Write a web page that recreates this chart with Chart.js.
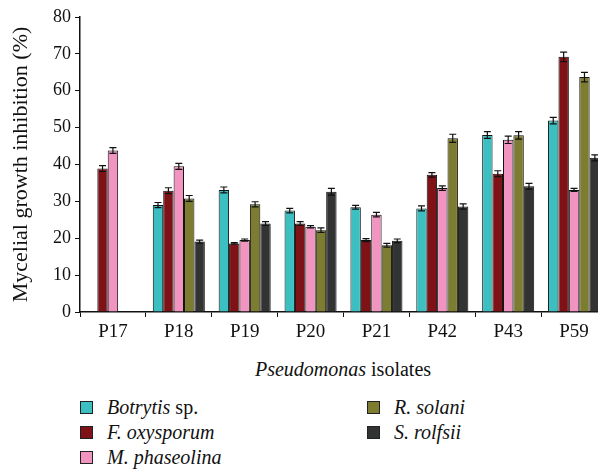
<!DOCTYPE html>
<html>
<head>
<meta charset="utf-8">
<script src="https://cdn.jsdelivr.net/npm/chart.js@4.4.1/dist/chart.umd.min.js"></script>
<style>
  body { margin: 0; width: 598px; height: 469px; overflow: hidden; background: #fff; position: relative; font-family: "Liberation Serif", "DejaVu Serif", serif; }
  #wrap { position: absolute; left: 0; top: 0; width: 610px; height: 345px; }
  #xtitle { position: absolute; left: 0; width: 598px; top: 358px; text-align: center; font-size: 20px; color: #111; padding-left: 88px; box-sizing: border-box; }
  .leg { position: absolute; font-size: 20px; color: #111; white-space: nowrap; }
  .leg span.sw { position: absolute; left: 0; top: 5px; width: 13px; height: 13px; border: 1px solid #222; box-sizing: border-box; }
  .leg span.tx { position: absolute; left: 27px; top: 0; }
</style>
</head>
<body>
<div id="wrap"><canvas id="c" width="610" height="345"></canvas></div>
<div id="xtitle"><i>Pseudomonas</i> isolates</div>
<div id="legend"></div>
<script>
// isolates on the x axis
const isolates = ['P17', 'P18', 'P19', 'P20', 'P21', 'P42', 'P43', 'P59'];

// inhibition (%) per pathogen, one value per isolate
const botrytis   = [null, 29.0, 33.1, 27.5, 28.4, 28.1, 48.0, 51.9];
const oxysporum  = [38.9, 32.9, 18.6, 24.0, 19.5, 37.2, 37.5, 69.2];
const phaseolina = [43.8, 39.5, 19.5, 23.1, 26.4, 33.6, 46.7, 33.1];
const solani     = [null, 30.8, 29.2, 22.2, 18.1, 47.1, 47.9, 63.7];
const rolfsii    = [null, 19.1, 24.0, 32.6, 19.3, 28.6, 34.1, 41.8];

// standard errors (same order)
const errBotrytis   = [0, 0.7, 0.8, 0.6, 0.5, 0.7, 0.9, 0.9];
const errOxysporum  = [0.8, 0.8, 0.2, 0.5, 0.4, 0.6, 0.8, 1.3];
const errPhaseolina = [0.8, 0.8, 0.3, 0.3, 0.6, 0.6, 1.0, 0.4];
const errSolani     = [0, 0.8, 0.7, 0.6, 0.5, 1.1, 1.0, 1.3];
const errRolfsii    = [0, 0.4, 0.5, 0.9, 0.5, 0.7, 0.8, 0.8];

const series = [
  { label: 'Botrytis', rest: ' sp.', data: botrytis, err: errBotrytis, color: '#3cbfc0' },
  { label: 'F. oxysporum', rest: '', data: oxysporum, err: errOxysporum, color: '#7e1216' },
  { label: 'M. phaseolina', rest: '', data: phaseolina, err: errPhaseolina, color: '#f294c0' },
  { label: 'R. solani', rest: '', data: solani, err: errSolani, color: '#7d7d32' },
  { label: 'S. rolfsii', rest: '', data: rolfsii, err: errRolfsii, color: '#323333' },
];

const FONT = '"Liberation Serif", "DejaVu Serif", serif';

// error bars drawn on top of each bar
const errorBars = {
  id: 'errorBars',
  afterDatasetsDraw(chart) {
    const ctx = chart.ctx;
    const y = chart.scales.y;
    ctx.save();
    ctx.strokeStyle = '#111';
    ctx.lineWidth = 1.2;
    chart.data.datasets.forEach((ds, i) => {
      const meta = chart.getDatasetMeta(i);
      meta.data.forEach((bar, j) => {
        const v = ds.data[j];
        const e = ds.errors[j];
        if (v == null || !e) return;
        const x = bar.x;
        const top = y.getPixelForValue(v + e);
        const bot = y.getPixelForValue(v - e);
        ctx.beginPath();
        ctx.moveTo(x, top); ctx.lineTo(x, bot);
        ctx.moveTo(x - 3.5, top); ctx.lineTo(x + 3.5, top);
        ctx.moveTo(x - 3.5, bot); ctx.lineTo(x + 3.5, bot);
        ctx.stroke();
      });
    });
    ctx.restore();
  }
};

new Chart(document.getElementById('c'), {
  type: 'bar',
  data: {
    labels: isolates,
    datasets: series.map(s => ({
      label: s.label + s.rest,
      data: s.data,
      errors: s.err,
      backgroundColor: s.color,
      borderColor: '#111',
      borderWidth: 1,
      barPercentage: 1.0,
      categoryPercentage: 0.79,
    })),
  },
  options: {
    responsive: false,
    animation: false,
    layout: { padding: { top: 17, right: 3, left: 0, bottom: 0 } },
    plugins: { legend: { display: false }, tooltip: { enabled: false } },
    scales: {
      x: {
        grid: { drawOnChartArea: false, drawTicks: true, tickLength: 5, color: '#111', offset: true },
        border: { display: true, color: '#111', width: 1.5 },
        ticks: { color: '#111', font: { family: FONT, size: 19 }, padding: 4, maxRotation: 0 },
        afterFit(scale) { scale.height = 33; },
      },
      y: {
        min: 0, max: 80,
        grid: { drawOnChartArea: false, drawTicks: true, tickLength: 5, color: '#111' },
        border: { display: true, color: '#111', width: 1.5 },
        ticks: { stepSize: 10, color: '#111', font: { family: FONT, size: 18 }, padding: 4 },
        title: { display: true, text: 'Mycelial growth inhibition (%)', color: '#111', font: { family: FONT, size: 22 }, padding: { top: 8, bottom: 2 } },
        afterFit(scale) { scale.width = 80; },
      },
    },
  },
  plugins: [errorBars],
});

// legend in two columns with italic species names
const legendPos = [[80, 396], [80, 421], [80, 446], [367, 396], [367, 421]];
const leg = document.getElementById('legend');
series.forEach((s, i) => {
  const d = document.createElement('div');
  d.className = 'leg';
  d.style.left = legendPos[i][0] + 'px';
  d.style.top = legendPos[i][1] + 'px';
  d.innerHTML = '<span class="sw" style="background:' + s.color + '"></span><span class="tx"><i>' + s.label + '</i>' + s.rest + '</span>';
  leg.appendChild(d);
});
</script>
</body>
</html>
